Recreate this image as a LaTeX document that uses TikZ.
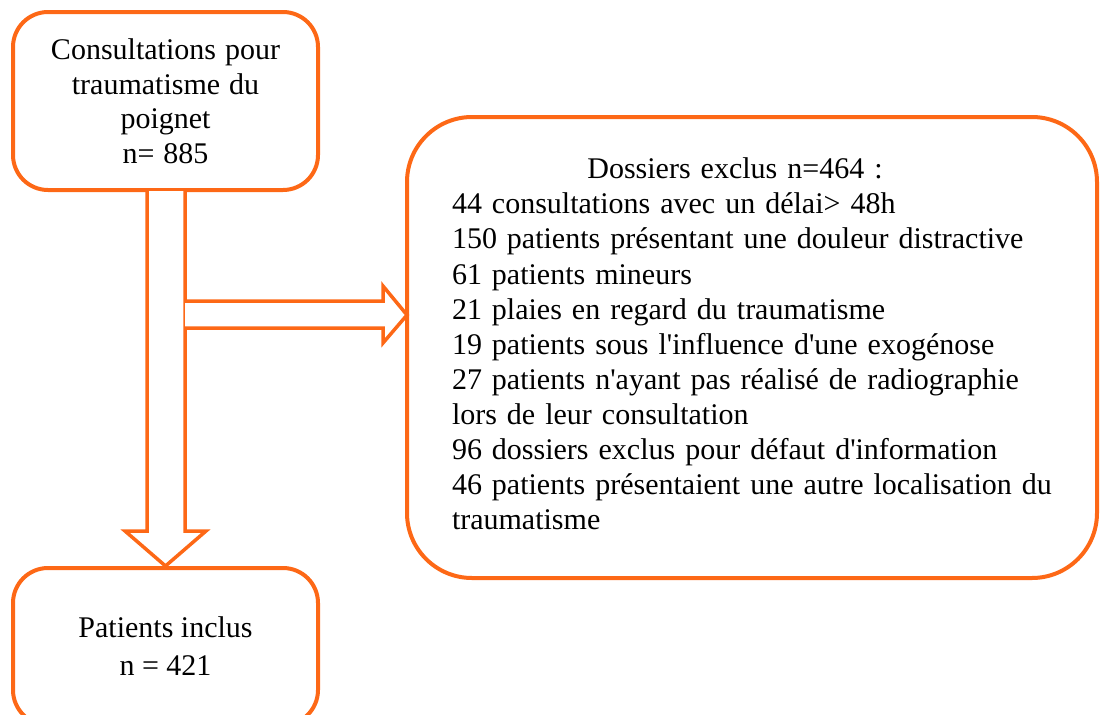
\documentclass[tikz,border=0pt]{standalone}
\usepackage{fontspec}
\newfontfamily\lsfont{Liberation Serif}
\definecolor{org}{RGB}{253,104,22}
\begin{document}
\begin{tikzpicture}[x=1pt,y=-1pt,
  box/.style={draw=org, line width=4pt, inner sep=0pt, align=center},
  blockarrow/.style={draw=org, line width=3.5pt, fill=white, line join=miter}]
\useasboundingbox (0,0) rectangle (1101,715);
\begin{scope}
\clip (0,0) rectangle (1101,715);
% boxes
\node[box, rounded corners=35pt, minimum width=305pt, minimum height=178pt,
      font={\lsfont\fontsize{30}{34.5}\selectfont\spaceskip=0.3em\relax}] (src) at (165.5,101)
  {Consultations pour\\traumatisme du\\poignet\\n= 885};
\node[box, rounded corners=35pt, minimum width=305pt, minimum height=157pt,
      font={\lsfont\fontsize{30}{38}\selectfont}] (inc) at (165.5,646.5)
  {Patients inclus\\n = 421};
\node[box, rounded corners=65pt, minimum width=690pt, minimum height=461pt] (excl) at (752,347.5) {};
\node[inner sep=0pt, align=left, text width=600pt,
      font={\lsfont\fontsize{30}{35.1}\selectfont\spaceskip=0.44em\relax}] (exclt) at ([yshift=3.5pt]excl.center)
  {\makebox[566pt]{Dossiers exclus n=464 :}\\
   44 consultations avec un délai> 48h\\
   150 patients présentant une douleur distractive\\
   61 patients mineurs\\
   21 plaies en regard du traumatisme\\
   19 patients sous l'influence d'une exogénose\\
   27 patients n'ayant pas réalisé de radiographie\\
   lors de leur consultation\\
   96 dossiers exclus pour défaut d'information\\
   46 patients présentaient une autre localisation du\\
   traumatisme};
% block arrows
\coordinate (vtip) at (inc.north);
\coordinate (htip) at (407,315);
\draw[blockarrow] (147,191) -- (147,531) -- (125,531) -- (vtip) -- (206,531) -- (185,531) -- (185,191);
\draw[blockarrow] (185,301) -- (383,301) -- (383,286) -- (htip) -- (383,343) -- (383,328) -- (185,328);
\end{scope}
\end{tikzpicture}
\end{document}
